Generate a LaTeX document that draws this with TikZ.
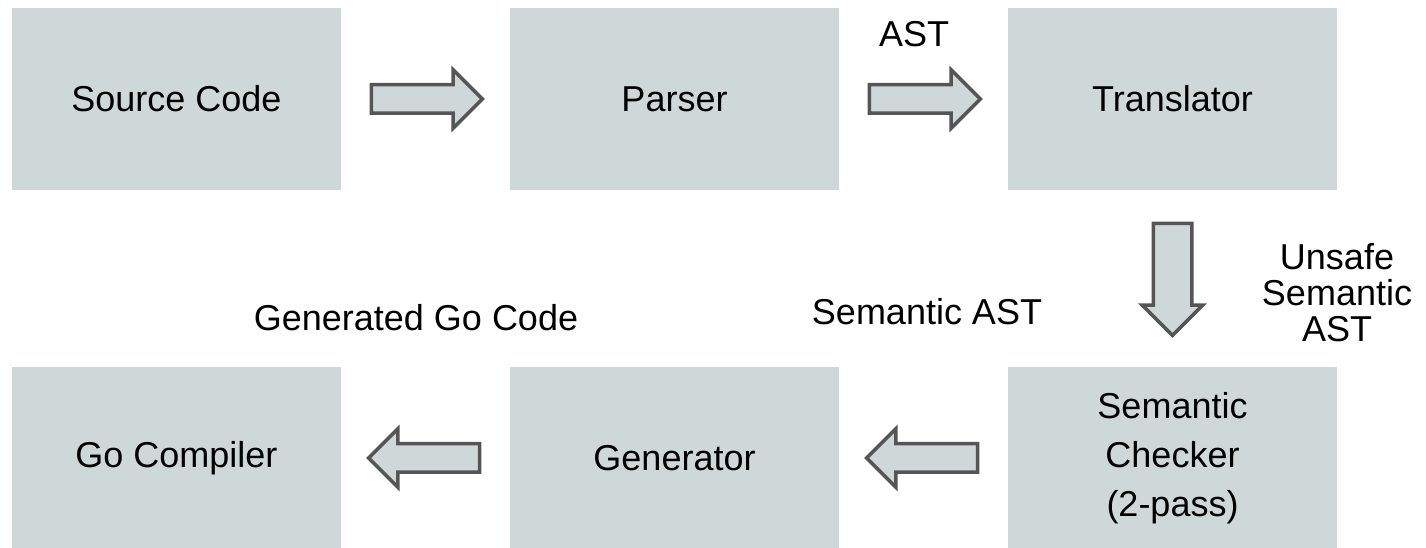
\documentclass[tikz,border=0pt]{standalone}
\usepackage{fontspec}
\setmainfont{Liberation Sans}
\usetikzlibrary{shapes.arrows,calc}

\definecolor{boxgray}{RGB}{207,216,216}
\definecolor{edgegray}{RGB}{85,85,85}

\tikzset{
    stage/.style={fill=boxgray, minimum width=329pt, minimum height=182pt,
        inner sep=0pt, align=center},
    fatarrow/.style={single arrow, draw=edgegray, fill=boxgray, line width=3.5pt,
        minimum height=111pt, inner sep=12.5pt, single arrow head extend=15pt,
        single arrow head indent=0pt, anchor=tail},
    tag/.style={anchor=base, inner sep=0pt}
}

\begin{document}
\begin{tikzpicture}[x=1pt, y=1pt, font=\fontsize{36}{49}\selectfont]
        \useasboundingbox (0,0) rectangle (1426,548);
        % top row
        \node[stage] (source) at (176.5,449) {Source Code};
        \node[stage] (parser) at (674.5,449) {Parser};
        \node[stage] (translator) at (1172.5,449) {Translator};
        % bottom row
        \node[stage] (gocompiler) at (176.5,90) {Go Compiler};
        \node[stage] (generator) at (674.5,90) {Generator};
        \node[stage] (checker) at (1172.5,90) {Semantic\\Checker\\(2-pass)};
        % block arrows between the stages
        \node[fatarrow] (toparser) at ($(source.east)+(28.5,0)$) {};
        \node[fatarrow] (totranslator) at ($(parser.east)+(28.5,0)$) {};
        \node[fatarrow, shape border rotate=270, inner sep=17.5pt,
            single arrow head extend=11pt, minimum height=112pt]
            (tochecker) at ($(translator.south)+(0,-31.5)$) {};
        \node[fatarrow, shape border rotate=180] (togenerator)
            at ($(checker.west)+(-28.5,0)$) {};
        \node[fatarrow, shape border rotate=180] (tocompiler)
            at ($(generator.west)+(-28.5,0)$) {};
        % labels
        \node[tag] (astlabel) at (914,501) {AST};
        \node[inner sep=0pt, align=center, font=\fontsize{36}{36}\selectfont]
            (unsafelabel) at (1337,255) {Unsafe\\Semantic\\AST};
        \node[tag] (semlabel) at (927,223) {Semantic AST};
        \node[tag] (golabel) at (416,217) {Generated Go Code};
\end{tikzpicture}
\end{document}
